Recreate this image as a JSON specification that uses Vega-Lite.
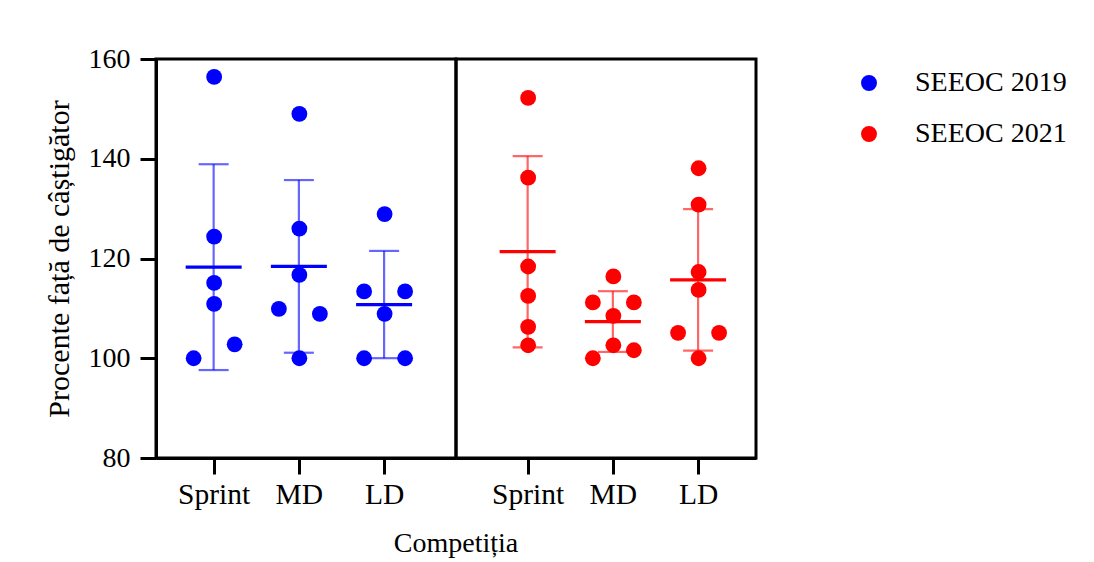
{
  "$schema": "https://vega.github.io/schema/vega-lite/v6.json",
  "padding": {"left": 42, "top": 43, "right": 5, "bottom": 0},
  "autosize": {"type": "pad"},
  "background": "white",
  "datasets": {
    "d": [
      {"ed": "SEEOC 2019", "comp": "Sprint", "pos": "center", "val": 156.4},
      {"ed": "SEEOC 2019", "comp": "Sprint", "pos": "center", "val": 124.4},
      {"ed": "SEEOC 2019", "comp": "Sprint", "pos": "center", "val": 115.1},
      {"ed": "SEEOC 2019", "comp": "Sprint", "pos": "center", "val": 110.9},
      {"ed": "SEEOC 2019", "comp": "Sprint", "pos": "left", "val": 100},
      {"ed": "SEEOC 2019", "comp": "Sprint", "pos": "right", "val": 102.8},
      {"ed": "SEEOC 2019", "comp": "MD", "pos": "center", "val": 149.0},
      {"ed": "SEEOC 2019", "comp": "MD", "pos": "center", "val": 126.0},
      {"ed": "SEEOC 2019", "comp": "MD", "pos": "center", "val": 116.7},
      {"ed": "SEEOC 2019", "comp": "MD", "pos": "center", "val": 100},
      {"ed": "SEEOC 2019", "comp": "MD", "pos": "left", "val": 109.9},
      {"ed": "SEEOC 2019", "comp": "MD", "pos": "right", "val": 108.9},
      {"ed": "SEEOC 2019", "comp": "LD", "pos": "center", "val": 128.9},
      {"ed": "SEEOC 2019", "comp": "LD", "pos": "center", "val": 108.9},
      {"ed": "SEEOC 2019", "comp": "LD", "pos": "left", "val": 113.4},
      {"ed": "SEEOC 2019", "comp": "LD", "pos": "left", "val": 100},
      {"ed": "SEEOC 2019", "comp": "LD", "pos": "right", "val": 113.4},
      {"ed": "SEEOC 2019", "comp": "LD", "pos": "right", "val": 100},
      {"ed": "SEEOC 2021", "comp": "Sprint", "pos": "center", "val": 152.2},
      {"ed": "SEEOC 2021", "comp": "Sprint", "pos": "center", "val": 136.2},
      {"ed": "SEEOC 2021", "comp": "Sprint", "pos": "center", "val": 118.4},
      {"ed": "SEEOC 2021", "comp": "Sprint", "pos": "center", "val": 112.5},
      {"ed": "SEEOC 2021", "comp": "Sprint", "pos": "center", "val": 106.3},
      {"ed": "SEEOC 2021", "comp": "Sprint", "pos": "center", "val": 102.6},
      {"ed": "SEEOC 2021", "comp": "MD", "pos": "center", "val": 116.4},
      {"ed": "SEEOC 2021", "comp": "MD", "pos": "center", "val": 108.5},
      {"ed": "SEEOC 2021", "comp": "MD", "pos": "center", "val": 102.6},
      {"ed": "SEEOC 2021", "comp": "MD", "pos": "left", "val": 111.2},
      {"ed": "SEEOC 2021", "comp": "MD", "pos": "left", "val": 100},
      {"ed": "SEEOC 2021", "comp": "MD", "pos": "right", "val": 111.2},
      {"ed": "SEEOC 2021", "comp": "MD", "pos": "right", "val": 101.6},
      {"ed": "SEEOC 2021", "comp": "LD", "pos": "center", "val": 138.1},
      {"ed": "SEEOC 2021", "comp": "LD", "pos": "center", "val": 130.8},
      {"ed": "SEEOC 2021", "comp": "LD", "pos": "center", "val": 117.3},
      {"ed": "SEEOC 2021", "comp": "LD", "pos": "center", "val": 113.7},
      {"ed": "SEEOC 2021", "comp": "LD", "pos": "center", "val": 100},
      {"ed": "SEEOC 2021", "comp": "LD", "pos": "left", "val": 105.1},
      {"ed": "SEEOC 2021", "comp": "LD", "pos": "right", "val": 105.1}
    ]
  },
  "title": {"text": "Competiția", "orient": "bottom", "anchor": "middle", "frame": "group", "dx": 300, "font": "Liberation Serif", "fontSize": 28, "fontWeight": "normal", "color": "black", "offset": 20},
  "spacing": 0,
  "bounds": "flush",
  "resolve": {"scale": {"y": "shared", "color": "shared"}},
  "hconcat": [
    {
      "width": 300,
      "height": 399,
      "data": {"name": "d"},
      "transform": [{"filter": "datum.ed === 'SEEOC 2019'"}],
      "encoding": {
        "x": {"field": "comp", "type": "nominal", "sort": ["Sprint", "MD", "LD"], "scale": {"type": "point", "padding": 0.76, "align": 0.445}, "axis": {"title": null, "labelAngle": 0}},
        "y": {"field": "val", "type": "quantitative", "title": "Procente față de câștigător", "scale": {"domain": [80, 160], "nice": false, "zero": false}, "axis": {"values": [80, 100, 120, 140, 160], "titlePadding": 14, "labelPadding": 10, "labelFontSize": 28, "titleFontSize": 30}},
        "color": {"field": "ed", "type": "nominal", "scale": {"domain": ["SEEOC 2019", "SEEOC 2021"], "range": ["#0000ff", "#ff0000"]}, "legend": {"title": null, "symbolType": "circle"}}
      },
      "layer": [
        {"mark": {"type": "circle", "size": 250, "opacity": 1}, "encoding": {"xOffset": {"field": "pos", "type": "nominal", "scale": {"type": "point", "padding": 0, "domain": ["left", "center", "right"], "range": [-20, 21]}}}},
        {"mark": {"type": "errorbar", "extent": "stdev", "ticks": {"size": 30, "thickness": 2.2, "opacity": 0.6}, "rule": {"strokeWidth": 2.2, "opacity": 0.6}}},
        {"mark": {"type": "tick", "size": 56, "thickness": 3.3}, "encoding": {"y": {"aggregate": "mean", "field": "val", "type": "quantitative", "title": "Procente față de câștigător"}}}
      ]
    },
    {
      "width": 300,
      "height": 399,
      "data": {"name": "d"},
      "transform": [{"filter": "datum.ed === 'SEEOC 2021'"}],
      "encoding": {
        "x": {"field": "comp", "type": "nominal", "sort": ["Sprint", "MD", "LD"], "scale": {"type": "point", "padding": 0.76, "align": 0.553}, "axis": {"title": null, "labelAngle": 0}},
        "y": {"field": "val", "type": "quantitative", "title": "Procente față de câștigător", "scale": {"domain": [80, 160], "nice": false, "zero": false}, "axis": null},
        "color": {"field": "ed", "type": "nominal", "scale": {"domain": ["SEEOC 2019", "SEEOC 2021"], "range": ["#0000ff", "#ff0000"]}, "legend": {"title": null, "symbolType": "circle"}}
      },
      "layer": [
        {"mark": {"type": "circle", "size": 250, "opacity": 1}, "encoding": {"xOffset": {"field": "pos", "type": "nominal", "scale": {"type": "point", "padding": 0, "domain": ["left", "center", "right"], "range": [-20, 21]}}}},
        {"mark": {"type": "errorbar", "extent": "stdev", "ticks": {"size": 30, "thickness": 2.2, "opacity": 0.6}, "rule": {"strokeWidth": 2.2, "opacity": 0.6}}},
        {"mark": {"type": "tick", "size": 56, "thickness": 3.3}, "encoding": {"y": {"aggregate": "mean", "field": "val", "type": "quantitative", "title": "Procente față de câștigător"}}}
      ]
    }
  ],
  "config": {
    "view": {"stroke": "black", "strokeWidth": 3},
    "axis": {"labelFont": "Liberation Serif", "labelFontSize": 29.5, "labelColor": "black", "titleFont": "Liberation Serif", "titleFontSize": 28, "titleFontWeight": "normal", "titleColor": "black", "domainColor": "black", "domainWidth": 3, "tickColor": "black", "tickWidth": 3, "tickSize": 16, "grid": false, "labelPadding": 6},
    "legend": {"orient": "right", "offset": 87, "padding": 10, "labelFont": "Liberation Serif", "labelFontSize": 28, "labelColor": "black", "symbolSize": 254, "rowPadding": 23, "labelOffset": 32, "symbolStrokeWidth": 0, "symbolOpacity": 1}
  }
}
